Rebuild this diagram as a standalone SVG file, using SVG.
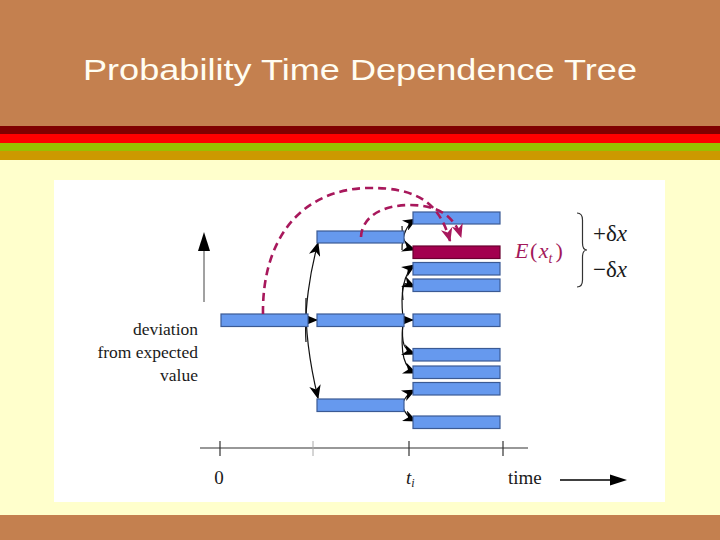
<svg xmlns="http://www.w3.org/2000/svg" width="720" height="540" viewBox="0 0 720 540">
<style>
.bar{fill:#6699EE;stroke:#3B5A94;stroke-width:1.2}
.mbar{fill:#A3004F;stroke:#6A0030;stroke-width:1.2}
.conn{fill:none;stroke:#111;stroke-width:1.2}
.dash{fill:none;stroke:#A8185C;stroke-width:2.6;stroke-dasharray:8 5}
.serif{font-family:"Liberation Serif","Times New Roman",serif;fill:#1a1a1a}
</style>
<defs>
<marker id="ah" viewBox="0 0 12 10" refX="11" refY="5" markerWidth="14" markerHeight="12" markerUnits="userSpaceOnUse" orient="auto">
<path d="M0,0 L12,5 L0,10 L3.5,5 z" fill="#000"/>
</marker>
<marker id="mh" viewBox="0 0 12 10" refX="11" refY="5" markerWidth="14" markerHeight="12" markerUnits="userSpaceOnUse" orient="auto">
<path d="M0,0 L12,5 L0,10 L3.5,5 z" fill="#A8185C"/>
</marker>
</defs>
<!-- background -->
<rect x="0" y="0" width="720" height="540" fill="#C4804F"/>
<rect x="0" y="126" width="720" height="8" fill="#800000"/>
<rect x="0" y="134" width="720" height="9" fill="#FF0000"/>
<rect x="0" y="143" width="720" height="8" fill="#99C000"/>
<rect x="0" y="151" width="720" height="9" fill="#CC9900"/>
<rect x="0" y="160" width="720" height="355" fill="#FFFFCC"/>
<rect x="54" y="180" width="611" height="322" fill="#FFFFFF"/>
<text x="360" y="80" text-anchor="middle" font-family="Liberation Sans, Arial, sans-serif" font-size="30" fill="#FFFDF2" textLength="554" lengthAdjust="spacingAndGlyphs">Probability Time Dependence Tree</text>

<!-- vertical axis -->
<g id="y-axis">
<line x1="204" y1="302" x2="204" y2="248" stroke="#444" stroke-width="1"/>
<polygon points="198,251 204,232 210,251" fill="#000"/>
<text class="serif" x="198" y="335" font-size="17.5" text-anchor="end">deviation</text>
<text class="serif" x="198" y="358" font-size="17.5" text-anchor="end">from expected</text>
<text class="serif" x="198" y="381" font-size="17.5" text-anchor="end">value</text>
</g>

<!-- time axis -->
<g id="time-axis">
<line x1="200" y1="448" x2="528" y2="448" stroke="#333" stroke-width="1.2"/>
<line x1="220" y1="441" x2="220" y2="456" stroke="#333" stroke-width="1.2"/>
<line x1="313" y1="441" x2="313" y2="456" stroke="#AAA" stroke-width="1"/>
<line x1="409" y1="441" x2="409" y2="456" stroke="#333" stroke-width="1.2"/>
<line x1="503" y1="441" x2="503" y2="456" stroke="#333" stroke-width="1.2"/>
<text class="serif" x="219" y="484" font-size="19" text-anchor="middle">0</text>
<text class="serif" x="406" y="484" font-size="19" font-style="italic">t<tspan font-size="12" dy="3">i</tspan></text>
<text class="serif" x="508" y="484" font-size="19">time</text>
<line x1="560" y1="480" x2="612" y2="480" stroke="#000" stroke-width="1.3"/>
<polygon points="610,474.5 627,480 610,485.5" fill="#000"/>
</g>

<!-- connectors -->
<g id="connectors">
<path class="conn" d="M305,320 L317,320" marker-end="url(#ah)"/>
<path class="conn" d="M397,320 L413,320" marker-end="url(#ah)"/>
<path class="conn" d="M306,342 C304,310 310,272 318,243" marker-end="url(#ah)"/>
<path class="conn" d="M306,298 C305,330 310,365 318,398" marker-end="url(#ah)"/>
<path class="conn" d="M402,250 C402,236 406,225 416,219" marker-end="url(#ah)"/>
<path class="conn" d="M402,226 C402,240 406,247 415,250" marker-end="url(#ah)"/>
<path class="conn" d="M403,318 C400,292 404,272 415,265" marker-end="url(#ah)"/>
<path class="conn" d="M403,300 C401,280 404,282 415,287" marker-end="url(#ah)"/>
<path class="conn" d="M403,322 C401,345 404,350 415,354" marker-end="url(#ah)"/>
<path class="conn" d="M403,322 C400,355 404,368 416,373" marker-end="url(#ah)"/>
<path class="conn" d="M402,405 Q405,395 415,390" marker-end="url(#ah)"/>
<path class="conn" d="M402,405 Q405,416 416,421" marker-end="url(#ah)"/>
</g>

<!-- nodes -->
<g id="n-t0"><rect class="bar" x="221" y="314" width="87" height="12.5"/></g>
<g id="n-t1-up"><rect class="bar" x="317" y="231" width="87" height="12"/></g>
<g id="n-t1-mid"><rect class="bar" x="317" y="314" width="87" height="12.5"/></g>
<g id="n-t1-down"><rect class="bar" x="317" y="399" width="87" height="12.5"/></g>
<g id="n-t2-1"><rect class="bar" x="413" y="212" width="87" height="12"/></g>
<g id="n-t2-expected"><rect class="mbar" x="413" y="246" width="87" height="12.5"/></g>
<g id="n-t2-3"><rect class="bar" x="413" y="262.5" width="87" height="12.5"/></g>
<g id="n-t2-4"><rect class="bar" x="413" y="279" width="87" height="12.5"/></g>
<g id="n-t2-5"><rect class="bar" x="413" y="314" width="87" height="12.5"/></g>
<g id="n-t2-6"><rect class="bar" x="413" y="348.5" width="87" height="12.5"/></g>
<g id="n-t2-7"><rect class="bar" x="413" y="366" width="87" height="12.5"/></g>
<g id="n-t2-8"><rect class="bar" x="413" y="382.5" width="87" height="12.5"/></g>
<g id="n-t2-9"><rect class="bar" x="413" y="416" width="87" height="12.5"/></g>

<!-- dashed expectation arcs -->
<g id="expectation-arcs">
<path class="dash" d="M263,314 C262,240 300,190 367,188 C420,187 440,205 450,241" marker-end="url(#mh)"/>
<path class="dash" d="M361,237 C362,215 385,205 410,205 C440,205 455,218 461,237" marker-end="url(#mh)"/>
</g>

<!-- labels right -->
<g id="expected-label">
<text x="515" y="258" font-family="Liberation Serif, Times New Roman, serif" font-size="22" fill="#A3185A"><tspan font-style="italic">E</tspan><tspan dx="1.5">(</tspan><tspan font-style="italic" dx="1.5">x</tspan><tspan font-style="italic" font-size="14" dy="5">t</tspan><tspan dy="-5" dx="3">)</tspan></text>
</g>
<g id="delta-brace">
<path d="M577,213 Q582.5,213 582.5,220 L582.5,243 Q582.5,250 587,250 Q582.5,250 582.5,257 L582.5,280 Q582.5,287 577,287" fill="none" stroke="#333" stroke-width="1.2"/>
<text class="serif" x="593" y="241" font-size="23">+δ<tspan font-style="italic">x</tspan></text>
<text class="serif" x="593" y="277" font-size="23">−δ<tspan font-style="italic">x</tspan></text>
</g>
</svg>
